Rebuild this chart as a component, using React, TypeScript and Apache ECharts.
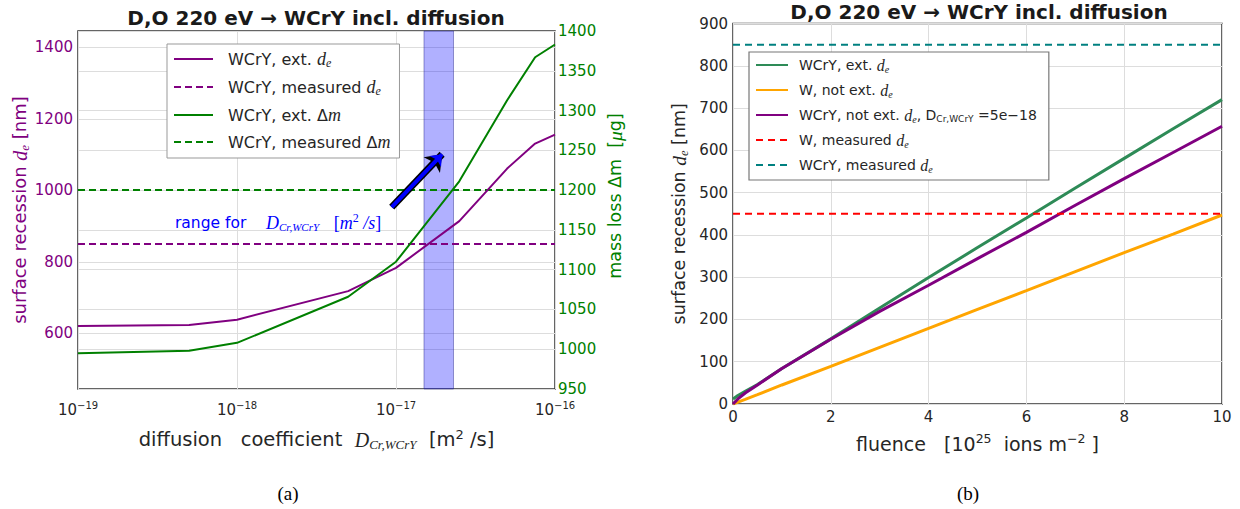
import React, { useEffect, useRef } from 'react';
import * as echarts from 'echarts';

// ---------- data: panel (a) ----------
const diffCoef = [1e-19, 5e-19, 1e-18, 5e-18, 1e-17, 2.5e-17, 5e-17, 7.5e-17, 1e-16];
const recessionExt = [620, 623, 638, 718, 783, 914, 1061, 1131, 1156];
const massLossExt = [995, 998, 1008, 1066, 1110, 1211, 1313, 1367, 1383];
const measuredRecession = 850;
const measuredMassLoss = 1200;
const diffRange = [1.5e-17, 2.3e-17];
const minorDecadeLines = [5e-19, 5e-18, 5e-17];
const arrowTail = [9.4e-18, 953];
const arrowHead = [1.95e-17, 1101];

// ---------- data: panel (b) ----------
const fluence = [0, 0.1, 0.25, 0.5, 1, 2, 3, 4, 5, 6, 7, 8, 9, 10];
const wcryExt = [12, 20, 30, 46, 84, 154, 227, 299, 370, 440, 511, 581, 651, 720];
const wNotExt = [0, 4.5, 11, 22, 45, 89, 134, 179, 224, 268, 313, 358, 402, 447];
const wcryNotExt = [0, 12, 26, 45, 84, 153, 219, 281, 344, 406, 470, 533, 595, 657];
const wMeasured = 450;
const wcryMeasured = 850;

const SANS = 'DejaVu Sans';
const SERIF = 'Liberation Serif';
const DARK = '#262626';
const PURPLE = '#800080';
const GREEN = '#008000';
const SEAGREEN = '#2e8b57';
const ORANGE = '#ffa500';
const TEAL = '#008080';
const GRIDC = '#dddddd';

const NAMES = {
  a1: 'WCrY, ext. d_e',
  a2: 'WCrY, measured d_e',
  a3: 'WCrY, ext. Δm',
  a4: 'WCrY, measured Δm',
  b1: 'WCrY, ext. d_e (fluence)',
  b2: 'W, not ext. d_e',
  b3: 'WCrY, not ext. d_e, D_Cr,WCrY=5e−18',
  b4: 'W, measured d_e',
  b5: 'WCrY, measured d_e (fluence)',
};

const legendRich: Record<string, string> = {
  [NAMES.a1]: 'WCrY, ext. {i|d}{sub|e}',
  [NAMES.a2]: 'WCrY, measured {i|d}{sub|e}',
  [NAMES.a3]: 'WCrY, ext. Δ{i|m}',
  [NAMES.a4]: 'WCrY, measured Δ{i|m}',
  [NAMES.b1]: 'WCrY, ext. {i|d}{sub|e}',
  [NAMES.b2]: 'W, not ext. {i|d}{sub|e}',
  [NAMES.b3]: 'WCrY, not ext. {i|d}{sub|e}, D{ssub|Cr,WCrY} =5e−18',
  [NAMES.b4]: 'W, measured {i|d}{sub|e}',
  [NAMES.b5]: 'WCrY, measured {i|d}{sub|e}',
};

const zip = (xs: number[], ys: number[]) => xs.map((x, i) => [x, ys[i]]);

const supExp = (e: number) => (e < 0 ? '−' + Math.abs(e) : String(e));

function buildOption(): any {
  const legendText = (size: number, gap: number) => ({
    fontFamily: SANS,
    fontSize: size,
    color: DARK,
    padding: [0, 0, 0, gap],
    rich: {
      i: { fontFamily: SERIF, fontStyle: 'italic', fontSize: size + 2, color: DARK },
      sub: { fontFamily: SERIF, fontStyle: 'italic', fontSize: size - 4, color: DARK, padding: [8, 0, 0, 0] },
      ssub: { fontFamily: SANS, fontSize: size - 5, color: DARK, padding: [8, 0, 0, 0] },
    },
  });
  const hiddenSymbol = { color: 'rgba(0,0,0,0)', borderColor: 'rgba(0,0,0,0)', borderWidth: 0, opacity: 0 };
  const titleStyle = { fontFamily: SANS, fontWeight: 'bold', fontSize: 20, color: '#1a1a1a' };

  return {
    animation: false,
    backgroundColor: '#ffffff',
    title: [
      { text: 'D,O 220 eV → WCrY incl. diffusion', left: 316, top: 8, textAlign: 'center', padding: 0, textStyle: titleStyle },
      { text: 'D,O 220 eV → WCrY incl. diffusion', left: 979, top: 2, textAlign: 'center', padding: 0, textStyle: titleStyle },
    ],
    grid: [
      { left: 78, top: 31, width: 477, height: 358, show: true, borderColor: '#333', borderWidth: 1.5, backgroundColor: 'transparent' },
      { left: 733, top: 23.5, width: 489, height: 380.5, show: true, borderColor: '#333', borderWidth: 1.5, backgroundColor: 'transparent' },
    ],
    legend: [
      {
        data: [NAMES.a1, NAMES.a2, NAMES.a3, NAMES.a4],
        orient: 'vertical',
        left: 167,
        top: 44,
        padding: [6, 9, 7, 6],
        itemGap: 9,
        itemWidth: 39,
        itemHeight: 12,
        borderColor: '#999',
        borderWidth: 1,
        borderRadius: 0,
        backgroundColor: '#ffffff',
        itemStyle: hiddenSymbol,
        formatter: (n: string) => legendRich[n] || n,
        textStyle: { ...legendText(16, 10), lineHeight: 18 },
      },
      {
        data: [NAMES.b1, NAMES.b2, NAMES.b3, NAMES.b4, NAMES.b5],
        orient: 'vertical',
        left: 749,
        top: 52,
        padding: [5, 12, 6, 6],
        itemGap: 8,
        itemWidth: 32,
        itemHeight: 12,
        borderColor: '#777',
        borderWidth: 1.2,
        borderRadius: 0,
        backgroundColor: '#ffffff',
        itemStyle: hiddenSymbol,
        formatter: (n: string) => legendRich[n] || n,
        textStyle: { ...legendText(14, 6), lineHeight: 16 },
      },
    ],
    xAxis: [
      {
        type: 'log',
        logBase: 10,
        gridIndex: 0,
        min: 1e-19,
        max: 1e-16,
        axisLine: { show: false },
        axisTick: { show: false },
        splitLine: { show: true, lineStyle: { color: GRIDC, width: 1 } },
        axisLabel: {
          margin: 11,
          formatter: (v: number) => '10{sup|' + supExp(Math.round(Math.log10(v))) + '}',
          fontFamily: SANS,
          fontSize: 15,
          color: DARK,
          rich: { sup: { fontFamily: SANS, fontSize: 10, color: DARK, padding: [0, 0, 10, 0] } },
        },
        name: '{t|diffusion   coefficient  }{i|D}{sub|Cr,WCrY}{t|  [m}{sup|2}{t| /s]}',
        nameLocation: 'middle',
        nameGap: 39,
        nameTextStyle: {
          fontFamily: SANS,
          fontSize: 19.5,
          color: DARK,
          rich: {
            t: { fontFamily: SANS, fontSize: 19.5, color: DARK },
            i: { fontFamily: SERIF, fontStyle: 'italic', fontSize: 20, color: DARK },
            sub: { fontFamily: SERIF, fontStyle: 'italic', fontSize: 13, color: DARK, padding: [9, 0, 0, 0] },
            sup: { fontFamily: SANS, fontSize: 13, color: DARK, padding: [0, 0, 10, 0] },
          },
        },
      },
      {
        type: 'value',
        gridIndex: 1,
        min: 0,
        max: 10,
        interval: 2,
        axisLine: { show: false },
        axisTick: { show: false },
        splitLine: { show: true, lineStyle: { color: GRIDC, width: 1 } },
        axisLabel: { margin: 5, fontFamily: SANS, fontSize: 15, color: DARK },
        name: '{t|fluence   [10}{sup|25}{t|  ions m}{sup|−2}{t| ]}',
        nameLocation: 'middle',
        nameGap: 28,
        nameTextStyle: {
          fontFamily: SANS,
          fontSize: 19,
          color: DARK,
          rich: {
            t: { fontFamily: SANS, fontSize: 19, color: DARK },
            sup: { fontFamily: SANS, fontSize: 12.5, color: DARK, padding: [0, 0, 10, 0] },
          },
        },
      },
    ],
    yAxis: [
      {
        type: 'value',
        gridIndex: 0,
        min: 444,
        max: 1446,
        splitNumber: 5,
        minInterval: 200,
        maxInterval: 200,
        axisLine: { show: false },
        axisTick: { show: false },
        splitLine: { show: true, lineStyle: { color: GRIDC, width: 1 } },
        axisLabel: {
          margin: 5,
          showMinLabel: false,
          showMaxLabel: false,
          fontFamily: SANS,
          fontSize: 15,
          color: PURPLE,
          formatter: (v: number) => (Math.abs(v % 200) < 1e-6 ? String(Math.round(v)) : ''),
        },
        name: '{t|surface recession }{i|d}{sub|e}{t| [nm]}',
        nameLocation: 'middle',
        nameGap: 47,
        nameRotate: 90,
        nameTextStyle: {
          fontFamily: SANS,
          fontSize: 18,
          color: PURPLE,
          rich: {
            t: { fontFamily: SANS, fontSize: 18, color: PURPLE },
            i: { fontFamily: SERIF, fontStyle: 'italic', fontSize: 20, color: PURPLE },
            sub: { fontFamily: SERIF, fontStyle: 'italic', fontSize: 13, color: PURPLE, padding: [9, 0, 0, 0] },
          },
        },
      },
      {
        type: 'value',
        gridIndex: 0,
        position: 'right',
        min: 950,
        max: 1400,
        interval: 50,
        axisLine: { show: false },
        axisTick: { show: false },
        splitLine: { show: true, lineStyle: { color: GRIDC, width: 1 } },
        axisLabel: {
          margin: 3,
          fontFamily: SANS,
          fontSize: 15,
          color: GREEN,
          formatter: (v: number) => String(Math.round(v)),
        },
        name: '{t|mass loss Δm  [}{i|μ}{t|g]}',
        nameLocation: 'middle',
        nameGap: 50,
        nameRotate: 90,
        nameTextStyle: {
          fontFamily: SANS,
          fontSize: 17.5,
          color: GREEN,
          padding: [0, 0, 0, 28],
          rich: {
            t: { fontFamily: SANS, fontSize: 17.5, color: GREEN },
            i: { fontFamily: SERIF, fontStyle: 'italic', fontSize: 19.5, color: GREEN },
          },
        },
      },
      {
        type: 'value',
        gridIndex: 1,
        min: 0,
        max: 900,
        interval: 100,
        axisLine: { show: false },
        axisTick: { show: false },
        splitLine: { show: true, lineStyle: { color: GRIDC, width: 1 } },
        axisLabel: { margin: 5, fontFamily: SANS, fontSize: 15, color: DARK },
        name: '{t|surface recession }{i|d}{sub|e}{t| [nm]}',
        nameLocation: 'middle',
        nameGap: 43,
        nameRotate: 90,
        nameTextStyle: {
          fontFamily: SANS,
          fontSize: 17.5,
          color: DARK,
          rich: {
            t: { fontFamily: SANS, fontSize: 17.5, color: DARK },
            i: { fontFamily: SERIF, fontStyle: 'italic', fontSize: 19.5, color: DARK },
            sub: { fontFamily: SERIF, fontStyle: 'italic', fontSize: 12.5, color: DARK, padding: [9, 0, 0, 0] },
          },
        },
      },
    ],
    series: [
      {
        name: NAMES.a1,
        type: 'line',
        xAxisIndex: 0,
        yAxisIndex: 0,
        data: zip(diffCoef, recessionExt),
        symbol: 'none',
        z: 5,
        lineStyle: { color: PURPLE, width: 2 },
        itemStyle: { color: PURPLE },
        markLine: {
          silent: true,
          symbol: 'none',
          label: { show: false },
          lineStyle: { color: GRIDC, width: 1, type: 'solid' },
          z: 1,
          data: minorDecadeLines.map((x) => ({ xAxis: x })),
        },
        markArea: {
          silent: true,
          itemStyle: { color: 'rgba(0,0,255,0.31)', borderColor: 'rgba(40,40,140,0.45)', borderWidth: 1 },
          data: [[{ xAxis: diffRange[0] }, { xAxis: diffRange[1] }]],
        },
      },
      {
        name: NAMES.a2,
        type: 'line',
        xAxisIndex: 0,
        yAxisIndex: 0,
        data: [[diffCoef[0], measuredRecession], [diffCoef[diffCoef.length - 1], measuredRecession]],
        symbol: 'none',
        z: 4,
        lineStyle: { color: PURPLE, width: 2, type: [7, 4] },
        itemStyle: { color: PURPLE },
        markLine: {
          silent: true,
          label: { show: false },
          z: 10,
          data: [
            [
              { coord: arrowTail, symbol: 'none', lineStyle: { color: '#000', width: 7, type: 'solid' } },
              { coord: arrowHead, symbol: 'arrow', symbolSize: [17, 15] },
            ],
            [
              { coord: arrowTail, symbol: 'none', lineStyle: { color: '#0000ff', width: 4, type: 'solid' } },
              { coord: arrowHead, symbol: 'arrow', symbolSize: [12, 10] },
            ],
          ],
        },
      },
      {
        name: NAMES.a3,
        type: 'line',
        xAxisIndex: 0,
        yAxisIndex: 1,
        data: zip(diffCoef, massLossExt),
        symbol: 'none',
        z: 5,
        lineStyle: { color: GREEN, width: 2 },
        itemStyle: { color: GREEN },
      },
      {
        name: NAMES.a4,
        type: 'line',
        xAxisIndex: 0,
        yAxisIndex: 1,
        data: [[diffCoef[0], measuredMassLoss], [diffCoef[diffCoef.length - 1], measuredMassLoss]],
        symbol: 'none',
        z: 4,
        lineStyle: { color: GREEN, width: 2, type: [7, 4] },
        itemStyle: { color: GREEN },
      },
      {
        name: NAMES.b1,
        type: 'line',
        xAxisIndex: 1,
        yAxisIndex: 2,
        data: zip(fluence, wcryExt),
        symbol: 'none',
        lineStyle: { color: SEAGREEN, width: 3 },
        itemStyle: { color: SEAGREEN },
      },
      {
        name: NAMES.b2,
        type: 'line',
        xAxisIndex: 1,
        yAxisIndex: 2,
        data: zip(fluence, wNotExt),
        symbol: 'none',
        lineStyle: { color: ORANGE, width: 3 },
        itemStyle: { color: ORANGE },
      },
      {
        name: NAMES.b3,
        type: 'line',
        xAxisIndex: 1,
        yAxisIndex: 2,
        data: zip(fluence, wcryNotExt),
        symbol: 'none',
        lineStyle: { color: PURPLE, width: 3 },
        itemStyle: { color: PURPLE },
      },
      {
        name: NAMES.b4,
        type: 'line',
        xAxisIndex: 1,
        yAxisIndex: 2,
        data: [[fluence[0], wMeasured], [fluence[fluence.length - 1], wMeasured]],
        symbol: 'none',
        lineStyle: { color: '#ff0000', width: 2, type: [7, 5] },
        itemStyle: { color: '#ff0000' },
      },
      {
        name: NAMES.b5,
        type: 'line',
        xAxisIndex: 1,
        yAxisIndex: 2,
        data: [[fluence[0], wcryMeasured], [fluence[fluence.length - 1], wcryMeasured]],
        symbol: 'none',
        lineStyle: { color: TEAL, width: 2, type: [7, 5] },
        itemStyle: { color: TEAL },
      },
    ],
    graphic: [
      {
        type: 'text',
        x: 175,
        y: 223,
        z: 20,
        style: {
          text: '{t|range for}    {i|D}{sub|Cr,WCrY}   {r|[}{i|m}{sup|2}{i| /s}{r|]}',
          fill: '#0000ff',
          fontFamily: SANS,
          fontSize: 15.5,
          verticalAlign: 'middle',
          rich: {
            t: { fontFamily: SANS, fontSize: 15.5, fill: '#0000ff', color: '#0000ff' },
            i: { fontFamily: SERIF, fontStyle: 'italic', fontSize: 18, fill: '#0000ff', color: '#0000ff' },
            r: { fontFamily: SERIF, fontSize: 18, fill: '#0000ff', color: '#0000ff' },
            sub: { fontFamily: SERIF, fontStyle: 'italic', fontSize: 11, fill: '#0000ff', color: '#0000ff', padding: [8, 0, 0, 0] },
            sup: { fontFamily: SERIF, fontSize: 12, fill: '#0000ff', color: '#0000ff', padding: [0, 0, 10, 0] },
          },
        },
      },
      {
        type: 'text',
        x: 288,
        y: 493,
        style: { text: '(a)', fontFamily: SERIF, fontSize: 19, fill: '#000', align: 'center', verticalAlign: 'middle' },
      },
      {
        type: 'text',
        x: 968,
        y: 493,
        style: { text: '(b)', fontFamily: SERIF, fontSize: 19, fill: '#000', align: 'center', verticalAlign: 'middle' },
      },
    ],
  };
}

export default function App() {
  const ref = useRef<HTMLDivElement>(null);
  useEffect(() => {
    if (!ref.current) return;
    const chart = echarts.init(ref.current, null, { renderer: 'svg' });
    chart.setOption(buildOption());
    return () => chart.dispose();
  }, []);
  return (
    <div
      ref={ref}
      style={{ position: 'absolute', left: 0, top: 0, width: 1240, height: 509, background: '#ffffff' }}
    />
  );
}
